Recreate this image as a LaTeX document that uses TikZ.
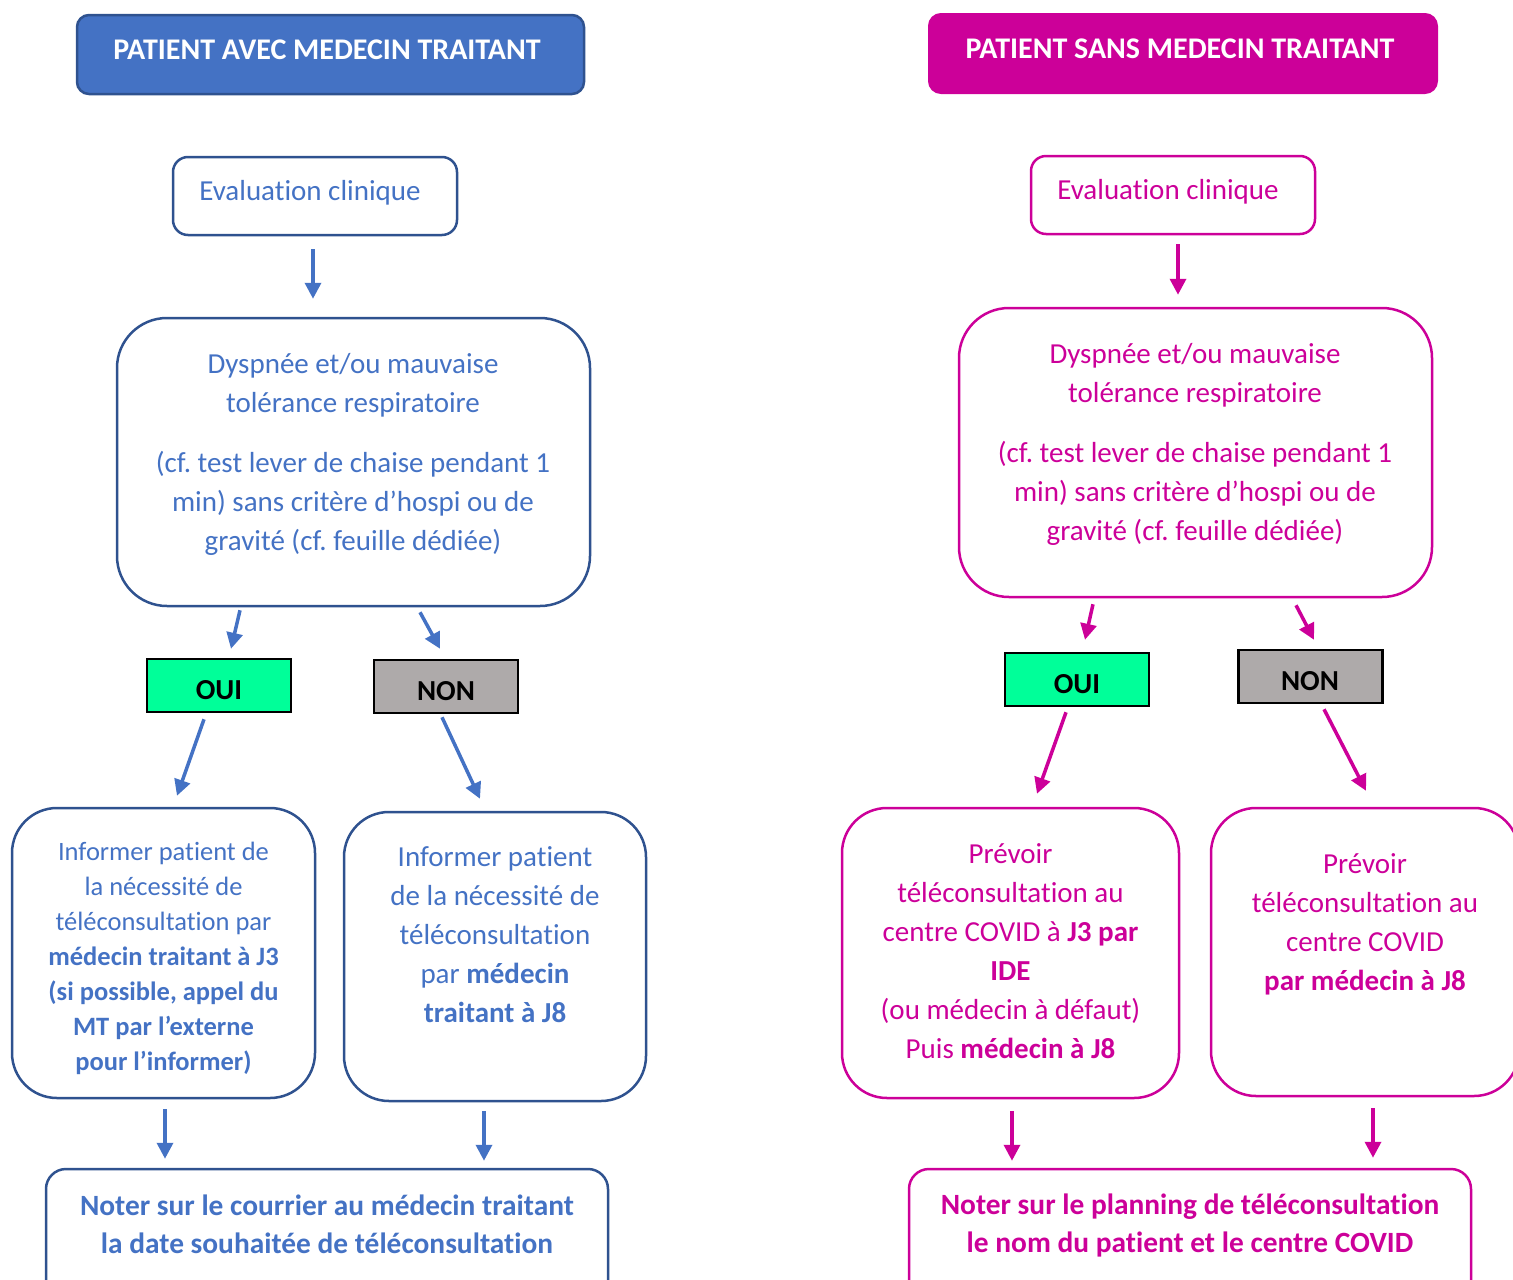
\documentclass[tikz,border=0pt]{standalone}
\usepackage{fontspec}
\setmainfont{Carlito}[Ligatures=NoCommon]
\usetikzlibrary{arrows.meta,calc}
\frenchspacing
\definecolor{blueF}{HTML}{4472C4}
\definecolor{blueD}{HTML}{2F528F}
\definecolor{pinkF}{HTML}{CC0099}
\definecolor{greenF}{HTML}{00FF99}
\definecolor{grayF}{HTML}{AEAAAA}
\tikzset{
  boxB/.style={rectangle, draw=blueD, line width=2.5pt, rounded corners=#1, inner sep=0pt},
  boxP/.style={rectangle, draw=pinkF, line width=2.5pt, rounded corners=#1, inner sep=0pt},
  hdrB/.style={rectangle, draw=blueD, fill=blueF, line width=2.5pt, rounded corners=12pt, inner sep=0pt, minimum width=507pt, minimum height=79pt},
  hdrP/.style={rectangle, draw=pinkF, fill=pinkF, line width=2pt, rounded corners=12pt, inner sep=0pt, minimum width=508pt, minimum height=79pt},
  ouibox/.style={rectangle, draw=black, fill=greenF, line width=2.5pt, inner sep=0pt, minimum width=144pt, minimum height=53pt},
  nonbox/.style={rectangle, draw=black, fill=grayF, line width=2.5pt, inner sep=0pt, minimum width=144pt, minimum height=53pt},
  txt/.style={inner sep=0pt, align=center, font=\fontsize{29}{39}\selectfont},
  txts/.style={inner sep=0pt, align=center, font=\fontsize{26.5}{35}\selectfont},
  hdrtxt/.style={inner sep=0pt, align=center, text=white, font=\fontsize{30}{39}\selectfont\bfseries},
  yn/.style={inner sep=0pt, align=center, font=\fontsize{29}{39}\selectfont\bfseries},
  arrB/.style={draw=blueF, line width=3.5pt, -{Triangle[length=16pt,width=16pt]}},
  arrP/.style={draw=pinkF, line width=3.5pt, -{Triangle[length=16pt,width=16pt]}},
}
\begin{document}
\begin{tikzpicture}[x=1pt,y=-1pt]
\useasboundingbox (0,0) rectangle (1513,1280);
\clip (0,0) rectangle (1513,1280);

% ---------------- LEFT COLUMN ----------------
\node[hdrB] (hdrL) at (330.5,54.5) {};
\node[hdrtxt] (hdrLt) at (327,50) {PATIENT AVEC MEDECIN TRAITANT};

\node[boxB=15pt, minimum width=284pt, minimum height=78pt] (evalL) at (315,196) {};
\node[txt, text=blueF] (evalLt) at (310,193) {Evaluation clinique};

\node[boxB=50pt, minimum width=473pt, minimum height=288pt] (bigL) at (353.5,462) {};
\node[txt, text=blueF] (bigLt) at (353,454) {Dyspnée et/ou mauvaise\\tolérance respiratoire\\[21pt](cf. test lever de chaise pendant 1\\min) sans critère d’hospi ou de\\gravité (cf. feuille dédiée)};

\node[ouibox] (ouiL) at (219,685.5) {};
\node[yn] (ouiLt) at (219,690) {OUI};
\node[nonbox] (nonL) at (446,686.5) {};
\node[yn] (nonLt) at (446,691) {NON};

\node[boxB=45pt, minimum width=303pt, minimum height=290pt] (boxL1) at (163.5,953) {};
\node[txts, text=blueF] (boxL1t) at (163.5,958.5) {Informer patient de\\la nécessité de\\téléconsultation par\\\textbf{médecin traitant à J3}\\\textbf{(si possible, appel du}\\\textbf{MT par l’externe}\\\textbf{pour l’informer)}};

\node[boxB=45pt, minimum width=302pt, minimum height=289pt] (boxL2) at (495,956.5) {};
\node[txt, text=blueF] (boxL2t) at (495,934.5) {Informer patient\\de la nécessité de\\téléconsultation\\par \textbf{médecin}\\\textbf{traitant à J8}};

\node[boxB=20pt, minimum width=562pt, minimum height=140pt] (botL) at (327,1239) {};
\node[txt, text=blueF, font=\fontsize{29.4}{38}\selectfont\bfseries] (botLt) at (327,1224) {Noter sur le courrier au médecin traitant\\la date souhaitée de téléconsultation};

\draw[arrB] ($(evalL.south)+(-2,13)$) -- ($(bigL.north)+(-40.5,-18)$);
\draw[arrB] ($(bigL.south)+(-113.5,3)$) -- ($(ouiL.north)+(12,-9)$);
\draw[arrB] ($(bigL.south)+(66.5,5)$) -- ($(nonL.north)+(-6,-10)$);
\draw[arrB] ($(ouiL.south)+(-15,6)$) -- ($(boxL1.north)+(13.5,-11)$);
\draw[arrB] ($(nonL.south)+(-4,3)$) -- ($(boxL2.north)+(-15,-12)$);
\draw[arrB] ($(boxL1.south)+(1.5,10)$) -- ($(botL.north)+(-162,-9)$);
\draw[arrB] ($(boxL2.south)+(-11,9)$) -- ($(botL.north)+(157,-7)$);

% ---------------- RIGHT COLUMN ----------------
\node[hdrP] (hdrR) at (1183,53.5) {};
\node[hdrtxt] (hdrRt) at (1180,49) {PATIENT SANS MEDECIN TRAITANT};

\node[boxP=15pt, minimum width=284pt, minimum height=78pt] (evalR) at (1173,195) {};
\node[txt, text=pinkF] (evalRt) at (1168,192) {Evaluation clinique};

\node[boxP=50pt, minimum width=473pt, minimum height=289pt] (bigR) at (1195.5,452.5) {};
\node[txt, text=pinkF] (bigRt) at (1195,444.5) {Dyspnée et/ou mauvaise\\tolérance respiratoire\\[21pt](cf. test lever de chaise pendant 1\\min) sans critère d’hospi ou de\\gravité (cf. feuille dédiée)};

\node[ouibox] (ouiR) at (1077,679.5) {};
\node[yn] (ouiRt) at (1077,684) {OUI};
\node[nonbox] (nonR) at (1310.5,676.5) {};
\node[yn] (nonRt) at (1310,681) {NON};

\node[boxP=45pt, minimum width=337pt, minimum height=290pt] (boxR1) at (1010.5,953) {};
\node[txt, text=pinkF] (boxR1t) at (1010.5,951.5) {Prévoir\\téléconsultation au\\centre COVID à \textbf{J3 par}\\\textbf{IDE}\\(ou médecin à défaut)\\Puis \textbf{médecin à J8}};

\node[boxP=45pt, minimum width=308pt, minimum height=288pt] (boxR2) at (1365,952) {};
\node[txt, text=pinkF] (boxR2t) at (1365,924) {Prévoir\\téléconsultation au\\centre COVID\\\textbf{par médecin à J8}};

\node[boxP=20pt, minimum width=562pt, minimum height=140pt] (botR) at (1190,1239) {};
\node[txt, text=pinkF, font=\fontsize{29.4}{38}\selectfont\bfseries] (botRt) at (1190,1225) {Noter sur le planning de téléconsultation\\le nom du patient et le centre COVID};

\draw[arrP] ($(evalR.south)+(5,9)$) -- ($(bigR.north)+(-17.5,-12)$);
\draw[arrP] ($(bigR.south)+(-102.5,6)$) -- ($(ouiR.north)+(8,-12)$);
\draw[arrP] ($(bigR.south)+(100.5,7)$) -- ($(nonR.north)+(3.5,-9)$);
\draw[arrP] ($(ouiR.south)+(-11,5)$) -- ($(boxR1.north)+(26.5,-13)$);
\draw[arrP] ($(nonR.south)+(13.5,5)$) -- ($(boxR2.north)+(1,-16)$);
\draw[arrP] ($(boxR1.south)+(1.5,12)$) -- ($(botR.north)+(-178,-7)$);
\draw[arrP] ($(boxR2.south)+(8,11)$) -- ($(botR.north)+(183,-10)$);
\end{tikzpicture}
\end{document}
